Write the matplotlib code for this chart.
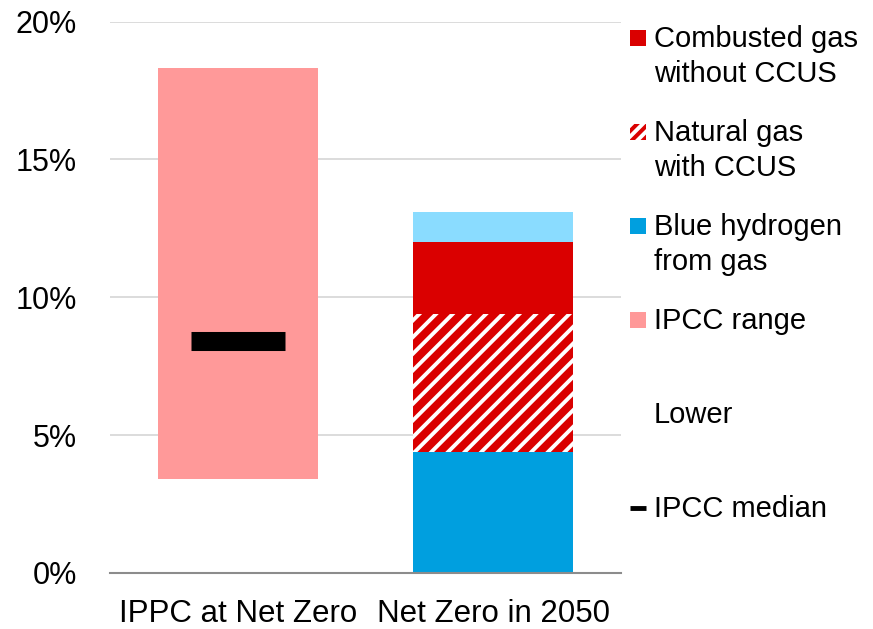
import matplotlib.pyplot as plt
from matplotlib.patches import Rectangle
from matplotlib.lines import Line2D

plt.rcParams["font.family"] = ["Liberation Sans", "DejaVu Sans"]
plt.rcParams["hatch.linewidth"] = 2.8

categories = ["IPPC at Net Zero", "Net Zero in 2050"]

# IPCC range drawn as an invisible "Lower" base plus the range on top
ipcc_lower = 3.4
ipcc_range = 14.9
ipcc_median = 8.43

# Net Zero in 2050 stack, bottom to top
nz_labels = ["Blue hydrogen from gas", "Natural gas with CCUS", "Combusted gas without CCUS", "Other"]
nz_values = [4.4, 5.0, 2.6, 1.1]
nz_colors = ["#009FDF", "#DA0000", "#DA0000", "#8ADCFF"]
nz_hatch = [None, "//", None, None]

yticks = [0, 5, 10, 15, 20]
ytick_labels = ["0%", "5%", "10%", "15%", "20%"]

legend_labels = ["Combusted gas\nwithout CCUS", "Natural gas\nwith CCUS", "Blue hydrogen\nfrom gas",
                 "IPCC range", "Lower", "IPCC median"]

W, H = 873, 629
FS = 21

fig = plt.figure(figsize=(W / 100, H / 100), dpi=100)
ax = fig.add_axes([110 / W, 56 / H, 511 / W, 551.5 / H])

width = 160 / 255.5
ax.bar(0, ipcc_lower, width, color="white")
ax.bar(0, ipcc_range, width, bottom=ipcc_lower, color="#FF9999")
ax.hlines(ipcc_median, 0 - 0.184, 0 + 0.184, color="black", linewidth=13.7, capstyle="butt", zorder=4)

bottom = 0
for val, col, hat in zip(nz_values, nz_colors, nz_hatch):
    if hat:
        ax.bar(1, val, width, bottom=bottom, facecolor=col, edgecolor="white", linewidth=0, hatch=hat)
    else:
        ax.bar(1, val, width, bottom=bottom, color=col, linewidth=0)
    bottom += val

ax.set_xlim(-0.5, 1.5)
ax.set_ylim(0, 20)
ax.set_yticks(yticks, ytick_labels)
ax.set_xticks([0, 1], categories)
ax.tick_params(axis="y", length=0, pad=24, labelsize=22)
ax.tick_params(axis="x", length=0, pad=19, labelsize=22.5)
ax.grid(True, axis="y", color="#D9D9D9", linewidth=1.3)
ax.set_axisbelow(True)
for side in ["left", "right", "top"]:
    ax.spines[side].set_visible(False)
ax.spines["bottom"].set_color("#8C8C8C")
ax.spines["bottom"].set_linewidth(1.5)

# hand-drawn legend on the right, first line aligned with the marker
handles = [("#DA0000", None), ("#DA0000", "///"), ("#009FDF", None), ("#FF9999", None), (None, None), ("median", None)]
base = 46.7
step = 94.0
line_gap = 35
for i, (label, (col, hat)) in enumerate(zip(legend_labels, handles)):
    y = base + i * step
    for j, line in enumerate(label.split("\n")):
        fig.text(654 / W, 1 - (y + j * line_gap) / H, line, fontsize=FS, va="baseline", ha="left")
    cy = y - 9
    if col == "median":
        fig.add_artist(Line2D([630 / W, 646 / W], [1 - cy / H, 1 - cy / H], color="black", linewidth=3.5,
                              solid_capstyle="butt", transform=fig.transFigure))
    elif col is not None:
        r = Rectangle((630 / W, 1 - (cy + 8) / H), 16 / W, 16 / H, transform=fig.transFigure,
                      facecolor=col, edgecolor="white" if hat else col, linewidth=0, hatch=hat)
        fig.add_artist(r)

fig.savefig("out.png", dpi=100)
